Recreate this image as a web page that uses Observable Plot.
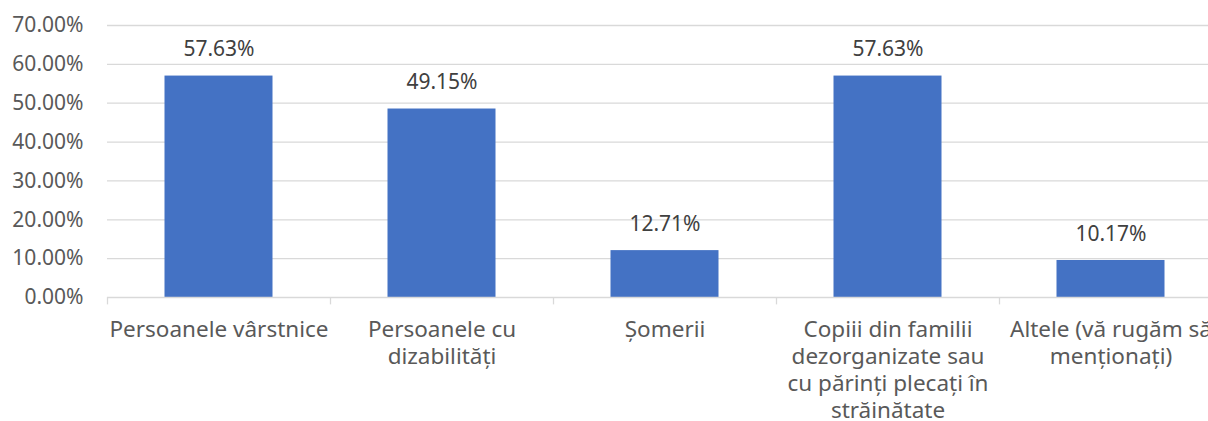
<!DOCTYPE html>
<html>
<head>
<meta charset="utf-8">
<script src="https://cdn.jsdelivr.net/npm/d3@7"></script>
<script src="https://cdn.jsdelivr.net/npm/@observablehq/plot@0.6"></script>
<style>
  html, body { margin: 0; padding: 0; background: #fff; overflow: hidden; }
  #chart svg { display: block; overflow: visible; }
</style>
</head>
<body>
<div id="chart"></div>
<script>
const categories = [
  "Persoanele vârstnice",
  "Persoanele cu dizabilități",
  "Șomerii",
  "Copiii din familii dezorganizate sau cu părinți plecați în străinătate",
  "Altele (vă rugăm să menționați)"
];
const tickLabels = [
  "Persoanele vârstnice",
  "Persoanele cu\ndizabilități",
  "Șomerii",
  "Copiii din familii\ndezorganizate sau\ncu părinți plecați în\nstrăinătate",
  "Altele (vă rugăm să\nmenționați)"
];
const values = [57.63, 49.15, 12.71, 57.63, 10.17];
const yTicks = [0, 10, 20, 30, 40, 50, 60, 70];

const data = categories.map((c, i) => ({category: c, value: values[i]}));
const labelOf = new Map(categories.map((c, i) => [c, tickLabels[i]]));

const FONT = "Noto Sans";
const x0 = 107, x1 = 1222;
const step = (x1 - x0) / categories.length;

const chart = Plot.plot({
  width: 1208,
  height: 421,
  marginLeft: 107,
  marginRight: 0,
  marginTop: 25,
  marginBottom: 124,
  style: {fontFamily: FONT, background: "#fff", overflow: "visible"},
  x: {type: "band", domain: categories, range: [x0, x1], padding: 0},
  y: {domain: [0, 70], range: [297, 25]},
  marks: [
    Plot.ruleY(yTicks.filter(d => d > 0), {stroke: "#d9d9d9", strokeWidth: 1.3}),
    Plot.barY(data, {x: "category", y: "value", fill: "#4472c4", insetLeft: 57.5, insetRight: 57.5, insetTop: 2.5}),
    Plot.ruleY([0], {stroke: "#d9d9d9", strokeWidth: 1.3}),
    Plot.ruleX(categories, {x: d => d, y1: 0, y2: -1.9, dx: -step / 2, stroke: "#d9d9d9", strokeWidth: 1.3}),
    Plot.text(data, {x: "category", y: "value", text: d => d.value.toFixed(2) + "%", dy: -24, fill: "#404040", fontSize: 21, fontFamily: FONT}),
    Plot.axisY({ticks: yTicks, tickFormat: d => d.toFixed(2) + "%", tickSize: 0, tickPadding: 24, fontSize: 21, fill: "#595959", label: null}),
    Plot.axisX({tickFormat: d => labelOf.get(d), tickSize: 0, tickPadding: 20, fontSize: 22.5, lineHeight: 1.2, fill: "#595959", label: null})
  ]
});
document.getElementById("chart").appendChild(chart);
</script>
</body>
</html>
